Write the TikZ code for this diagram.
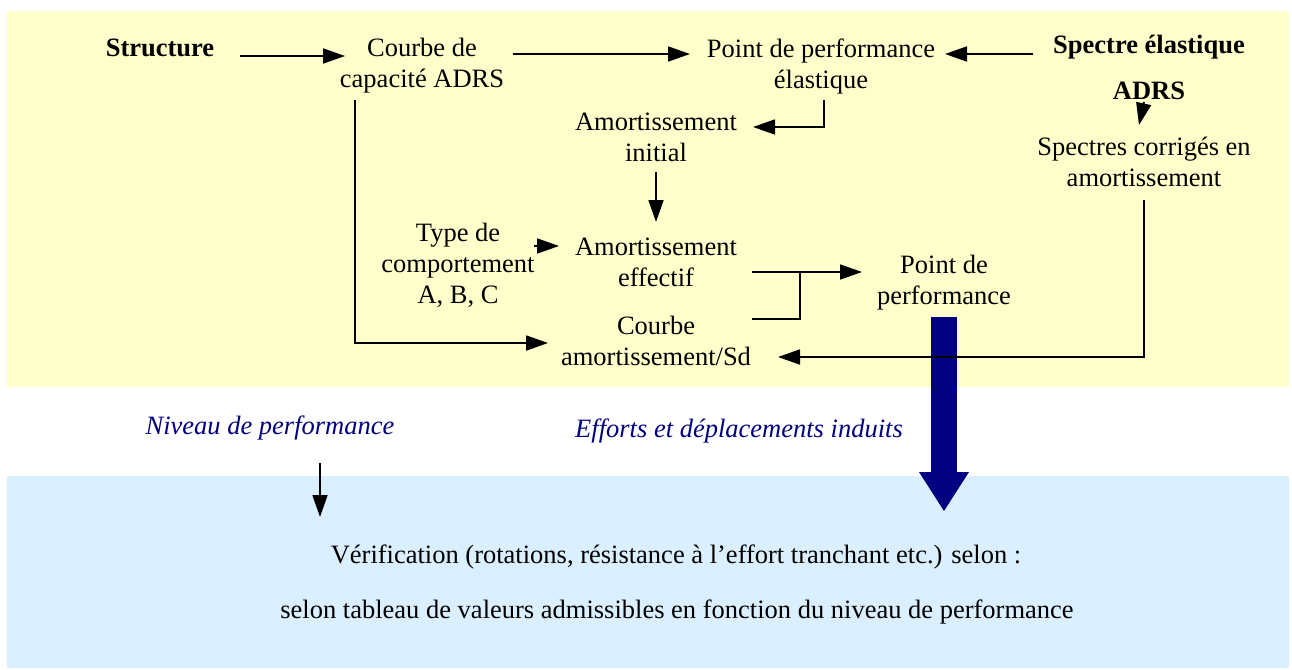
\documentclass[tikz,border=0pt]{standalone}
\usepackage{fontspec}
\setmainfont{Liberation Serif}
\usetikzlibrary{arrows.meta}
\definecolor{bgyellow}{RGB}{255,255,204}
\definecolor{bgblue}{RGB}{218,239,255}
\definecolor{navy}{RGB}{0,0,128}
\begin{document}
\begin{tikzpicture}[x=1pt,y=-1pt,
  txt/.style={inner sep=0pt,align=center,font=\fontsize{26.5}{31}\selectfont},
  bold/.style={txt,font=\fontsize{26.5}{31}\selectfont\bfseries},
  lbl/.style={txt,font=\fontsize{26.5}{31}\selectfont\itshape,text=navy},
  ln/.style={line width=1.8pt},
  arr/.style={line width=1.8pt,-{Triangle[length=22pt,width=15pt]}}]
\useasboundingbox (0,0) rectangle (1292,669);
% backgrounds
\fill[bgyellow] (7,11) rectangle (1289,387);
\fill[bgblue] (7,476) rectangle (1289,668);
% nodes
\node[bold] (structure) at (160,48) {Structure};
\node[txt] (courbe) at (422,66) {Courbe de\\capacité ADRS};
\node[txt] (pe) at (821,66) {Point de performance\\élastique};
\node[bold] (spectre) at (1149,47) {Spectre élastique};
\node[bold] (adrs) at (1149,91) {ADRS};
\node[txt] (spc) at (1144,162) {Spectres corrigés en\\amortissement};
\node[txt] (ai) at (656,137) {Amortissement\\initial};
\node[txt] (ae) at (656,262) {Amortissement\\effectif};
\node[txt] (type) at (458,265) {Type de\\comportement\\A, B, C};
\node[txt] (cas) at (656,341) {Courbe\\amortissement/Sd};
\node[txt] (pp) at (944,283) {Point de\\performance};
\node[lbl] (niv) at (270,428) {Niveau de performance};
\node[lbl] (eff) at (739,431) {Efforts et déplacements induits};
\node[txt] (ver) at (676,557) {Vérification (rotations, résistance à l’effort tranchant etc.) selon :};
\node[txt] (sel) at (677,612) {selon tableau de valeurs admissibles en fonction du niveau de performance};
% big blue arrow
\coordinate (bt) at ([shift={(0,34)}]pp.center);
\fill[navy] (bt) ++(-12.8,0) -- ++(25.6,0) -- ++(0,155) -- ++(12.2,0) -- ++(-25,39) -- ++(-25,-39) -- ++(12.2,0) -- cycle;
% connectors
\draw[arr] ([shift={(80,8)}]structure.center) -- ([shift={(-77,-10)}]courbe.center);
\draw[arr] ([shift={(91,-12)}]courbe.center) -- ([shift={(-131,-12)}]pe.center);
\draw[arr] ([shift={(-116,7)}]spectre.center) -- ([shift={(124,-12)}]pe.center);
\draw[arr] ([shift={(3,34)}]pe.center) |- ([shift={(97,-10)}]ai.center);
\draw[arr] ([shift={(-5,11)}]adrs.center) -- ([shift={(-5,-37)}]spc.center);
\draw[arr] ([shift={(0,35)}]ai.center) -- ([shift={(0,-40)}]ae.center);
\draw[arr] ([shift={(76,-19)}]type.center) -- ([shift={(-97,-16)}]ae.center);
\draw[arr] ([shift={(96,10)}]ae.center) -- ([shift={(-82,-11)}]pp.center);
\draw[ln] ([shift={(96,-22)}]cas.center) -| ([shift={(144,10)}]ae.center);
\draw[arr] ([shift={(-67,34)}]courbe.center) |- ([shift={(-108,2)}]cas.center);
\draw[arr] ([shift={(0,38)}]spc.center) |- ([shift={(122,16)}]cas.center);
\draw[arr] ([shift={(50,35)}]niv.center) -- ([shift={(-356,-40)}]ver.center);
\end{tikzpicture}
\end{document}
